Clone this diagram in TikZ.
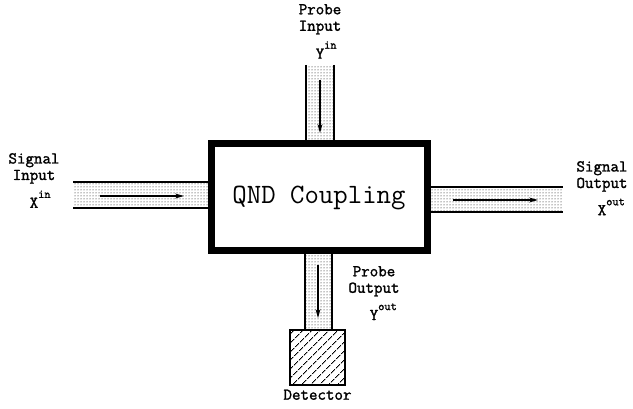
\documentclass[tikz,border=0pt]{standalone}
\usepackage{fontspec}
\newfontfamily\labelfont{Latin Modern Mono}[AutoFakeBold=1.6]
\usetikzlibrary{patterns,patterns.meta,arrows.meta}
\newcommand{\supr}[1]{\rlap{\raisebox{1.4ex}{\fontsize{12}{12}\selectfont #1}}}
\begin{document}
\begin{tikzpicture}[x=1pt, y=-1pt,
  tube/.style={pattern=dots, pattern color=black},
  wall/.style={line width=1.3pt},
  flow/.style={line width=1.1pt, -{Stealth[length=9pt,width=5pt]}},
  label/.style={align=center, inner sep=0pt, font=\labelfont\bfseries\fontsize{16.5}{16.5}\selectfont},
  coupler/.style={draw, line width=7pt, fill=white, minimum width=216, minimum height=107,
    font=\ttfamily\fontsize{28}{30}\selectfont}
]
  \useasboundingbox (0,0) rectangle (633,409);

  % Tubes
  \fill[tube] (306,65) rectangle (334,144);
  \draw[wall] (306,65) -- (306,141) (334,65) -- (334,141);
  \fill[tube] (73,182) rectangle (211,208);
  \draw[wall] (73,182) -- (208,182) (73,208) -- (208,208);
  \fill[tube] (427,187) rectangle (563,212);
  \draw[wall] (430,187) -- (563,187) (430,212) -- (563,212);
  \fill[tube] (305,251) rectangle (332,330);
  \draw[wall] (305,254) -- (305,330) (332,254) -- (332,330);

  % Coupler and detector
  \node[coupler] (qnd) at (319,197.5) {\raisebox{5pt}{QND Coupling}};
  \node[draw, wall, pattern={Lines[angle=45,distance=6.5pt,line width=0.9pt]},
    minimum width=55, minimum height=55, inner sep=0pt] (det) at (317.5,357.5) {};

  % Flow arrows
  \coordinate (pinA) at (320,80);   \coordinate (pinB) at (320,133);
  \coordinate (sinA) at (100,196);  \coordinate (sinB) at (184,196);
  \coordinate (soutA) at (453,200); \coordinate (soutB) at (538,200);
  \coordinate (poutA) at (318,265); \coordinate (poutB) at (318,318);
  \draw[flow] (pinA) -- (pinB);
  \draw[flow] (sinA) -- (sinB);
  \draw[flow] (soutA) -- (soutB);
  \draw[flow] (poutA) -- (poutB);

  % Labels
  \node[label, anchor=north] (lpin) at (320,4) {Probe\\Input\\[6pt]Y\supr{in}};
  \node[label, anchor=north] (lsin) at (34,153) {Signal\\Input\\[6pt]X\supr{in}};
  \node[label, anchor=north] (lsout) at (602,161) {Signal\\Output\\[6pt]X\supr{out}};
  \node[label, anchor=north] (lpout) at (374,266) {Probe\\Output\\[6pt]Y\supr{out}};
  \node[label, anchor=north] (ldet) at (det.south) [yshift=-4pt] {Detector};
\end{tikzpicture}
\end{document}
